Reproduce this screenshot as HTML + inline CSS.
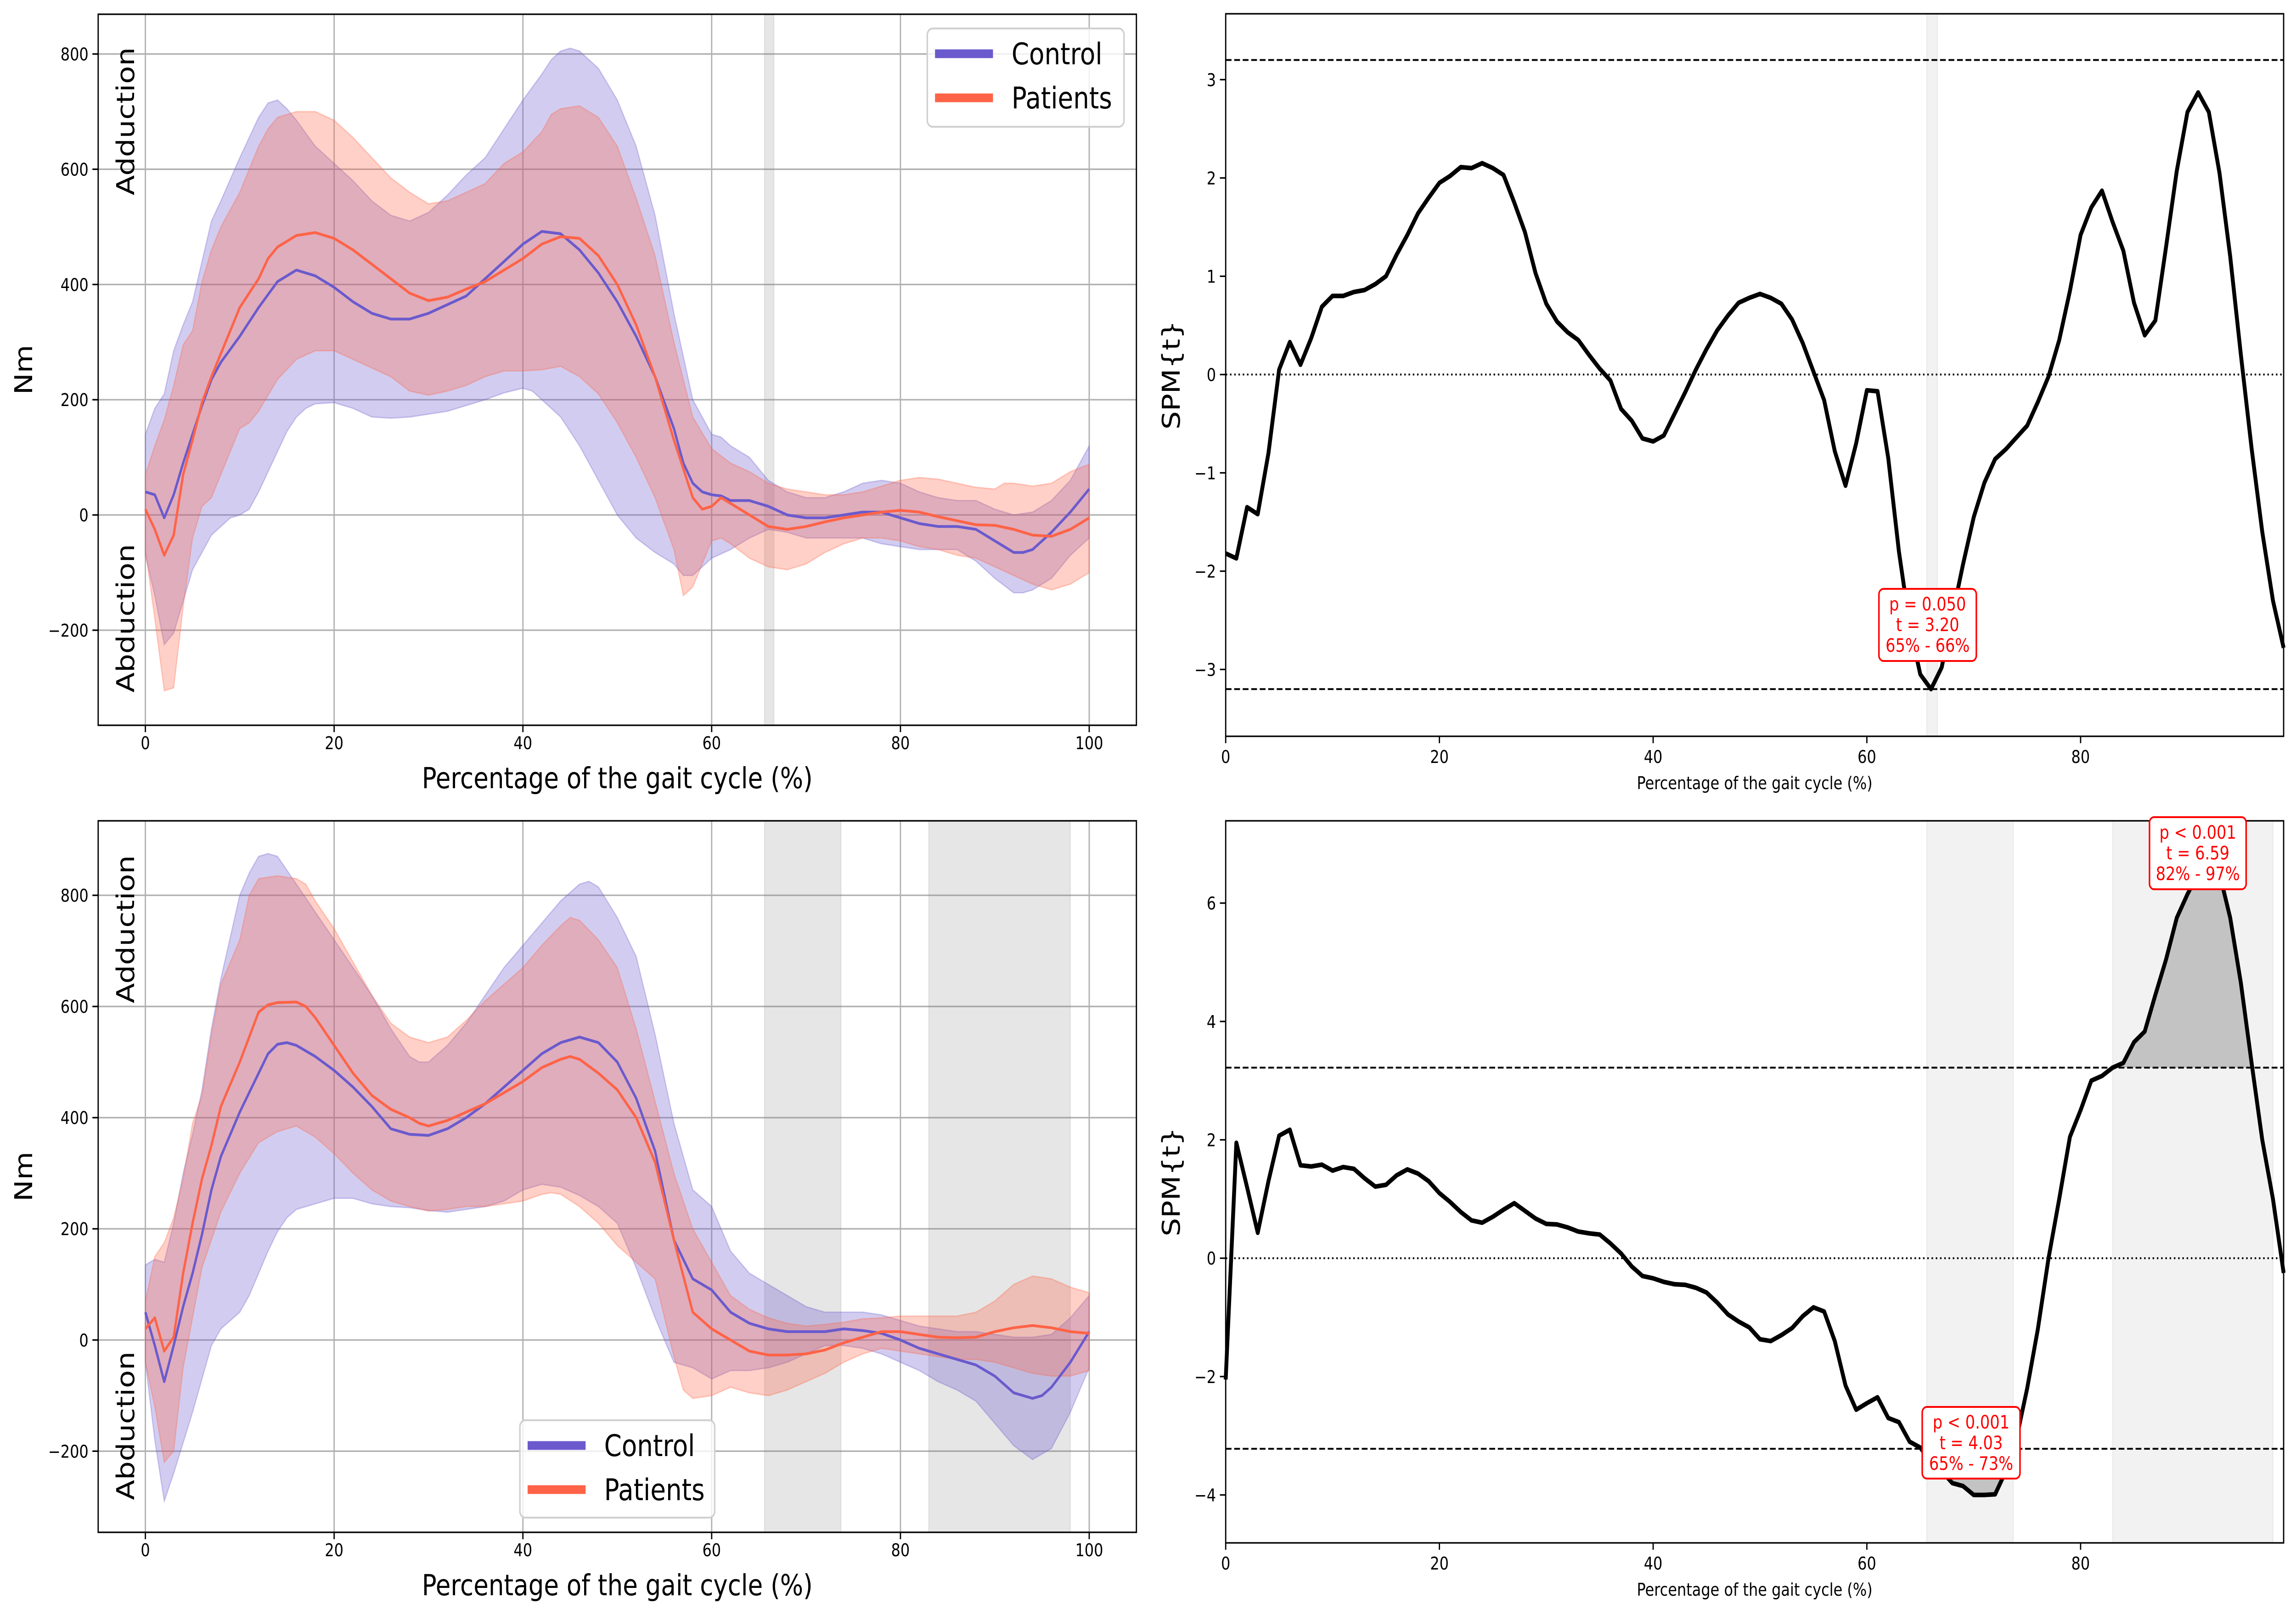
<!DOCTYPE html>
<html><head><meta charset="utf-8"><style>
html,body{margin:0;padding:0;background:#fff;overflow:hidden;width:100%;height:100%}
svg{display:block;width:100vw;height:100vh;font-family:"DejaVu Sans","Liberation Sans",sans-serif}
</style></head><body>
<svg id="fig" xmlns="http://www.w3.org/2000/svg" viewBox="0 0 5940 3516" preserveAspectRatio="none">
<rect width="5940" height="3516" fill="#fff"/>
</svg>
<script>
// ---------- DATA ----------
const tlCtrlMeanX=[0,1,2,3,4,5,6,7,8,10,12,14,16,18,20,22,24,26,28,30,32,34,36,38,40,42,44,46,48,50,52,54,56,57,58,59,60,61,62,64,66,68,70,72,74,76,78,80,82,84,86,88,90,92,93,94,96,98,100];
const tlCtrlMeanY=[40,35,-5,35,90,140,190,235,265,310,360,405,425,415,395,370,350,340,340,350,365,380,410,440,470,492,488,460,420,370,310,240,150,90,55,40,35,33,25,25,15,0,-5,-5,0,5,5,-5,-15,-20,-20,-25,-45,-65,-65,-60,-30,5,45];
const tlCtrlUpX=[0,1,2,3,4,5,6,7,8,10,12,13,14,15,16,18,20,22,24,26,28,30,32,34,36,38,40,42,43,44,45,46,48,50,52,54,56,58,59,60,61,62,64,66,68,70,72,74,76,78,80,82,84,86,88,90,92,94,96,98,100];
const tlCtrlUpY=[140,185,210,285,330,370,440,510,545,620,690,715,720,705,685,640,610,580,545,520,510,525,555,590,620,670,720,765,790,805,810,805,775,720,640,520,350,200,170,140,135,120,100,60,40,30,30,40,55,60,55,40,30,25,25,10,0,5,25,60,120];
const tlCtrlLoX=[0,1,2,3,4,5,6,7,8,9,10,11,12,13,14,15,16,17,18,20,22,24,26,28,30,32,34,36,38,40,41,42,44,46,48,50,52,54,56,57,58,60,62,64,66,68,70,72,74,76,78,80,82,84,86,88,90,92,93,94,96,98,100];
const tlCtrlLoY=[-70,-140,-225,-205,-150,-95,-65,-35,-20,-5,0,10,40,75,110,145,170,185,193,195,185,170,168,170,175,180,190,200,212,220,215,200,170,120,60,0,-40,-65,-85,-105,-105,-75,-60,-40,-25,-30,-40,-40,-40,-40,-50,-55,-60,-60,-60,-80,-110,-135,-135,-130,-110,-70,-40];
const tlPatMeanX=[0,1,2,3,4,5,6,7,8,9,10,12,13,14,16,18,20,22,24,26,28,30,32,34,36,38,40,42,44,46,48,50,52,54,56,57,58,59,60,61,62,64,66,68,70,72,74,76,78,80,82,84,86,88,90,92,94,96,98,100];
const tlPatMeanY=[10,-25,-70,-35,70,130,195,240,280,320,360,410,445,465,485,490,480,460,435,410,385,372,378,392,405,425,445,470,483,480,450,400,330,240,130,80,30,10,15,30,20,0,-20,-25,-20,-12,-5,0,5,8,5,-3,-10,-17,-18,-25,-35,-37,-25,-5];
const tlPatUpX=[0,1,2,3,4,5,6,7,8,10,12,13,14,16,18,20,22,24,26,28,30,32,34,36,38,40,42,43,44,46,48,50,52,54,56,58,60,62,64,66,68,70,72,74,76,78,80,82,84,86,88,90,91,92,94,96,98,100];
const tlPatUpY=[70,120,165,225,295,320,405,460,500,560,640,670,690,700,700,685,655,620,585,560,540,545,560,575,610,630,665,695,705,710,690,640,550,450,300,170,115,90,75,55,45,40,35,35,40,50,60,65,62,55,48,45,55,55,50,55,75,88];
const tlPatLoX=[0,1,2,3,4,5,6,7,8,10,11,12,14,16,18,20,22,24,26,28,30,32,34,36,38,40,42,44,46,48,50,52,54,56,57,58,60,61,62,64,66,68,70,72,74,76,78,80,82,84,86,88,90,92,94,96,98,100];
const tlPatLoY=[-60,-180,-305,-300,-160,-40,15,30,70,150,160,180,235,270,285,285,270,255,240,215,208,215,225,240,250,250,252,258,240,210,160,100,30,-60,-140,-125,-45,-40,-50,-75,-90,-95,-85,-65,-50,-40,-40,-45,-55,-60,-70,-75,-90,-105,-120,-130,-120,-100];

const blCtrlMeanX=[0,1,2,3,4,5,6,7,8,10,12,13,14,15,16,18,20,22,24,26,28,30,32,34,36,38,40,42,44,46,48,50,52,54,56,58,60,62,64,66,68,70,72,74,76,78,80,82,84,86,88,90,92,94,95,96,98,100];
const blCtrlMeanY=[50,-10,-75,-10,60,120,190,270,330,410,480,515,532,535,530,510,485,455,420,380,370,368,380,400,425,455,485,515,535,545,535,500,435,340,180,110,90,50,30,20,15,15,15,20,17,12,0,-15,-25,-35,-45,-65,-95,-105,-100,-85,-40,15];
const blCtrlUpX=[0,1,2,3,4,5,6,7,8,10,11,12,13,14,16,18,20,22,24,26,28,29,30,32,34,36,38,40,42,44,46,47,48,50,52,54,56,58,60,62,64,66,68,70,72,74,76,78,80,82,84,86,88,90,92,94,96,98,100];
const blCtrlUpY=[135,145,140,210,300,370,450,560,650,800,840,870,875,870,820,770,720,670,620,560,510,500,500,530,570,620,670,710,750,790,820,825,815,760,690,550,390,270,240,160,120,100,80,60,50,50,50,45,35,25,20,15,15,10,5,5,10,40,80];
const blCtrlLoX=[0,1,2,3,4,5,6,7,8,10,11,12,13,14,15,16,18,20,22,24,26,28,30,32,34,36,38,40,42,44,46,48,50,52,54,56,58,60,62,64,66,68,70,72,74,76,78,80,82,84,86,88,90,92,94,96,98,100];
const blCtrlLoY=[-40,-180,-290,-240,-185,-130,-70,-10,20,50,80,120,160,195,220,235,245,255,255,245,240,238,233,230,235,240,250,270,280,275,260,240,210,130,40,-40,-50,-70,-55,-55,-50,-40,-25,-10,-10,-15,-25,-40,-55,-75,-90,-110,-150,-190,-215,-195,-130,-50];
const blPatMeanX=[0,1,2,3,4,5,6,7,8,10,12,13,14,16,17,18,20,22,24,26,28,29,30,32,34,36,38,40,42,44,45,46,48,50,52,54,56,58,60,62,64,66,68,70,72,74,76,78,80,82,84,86,88,90,92,94,96,98,100];
const blPatMeanY=[20,40,-20,5,120,210,290,350,420,500,590,603,607,608,600,580,530,480,440,415,400,390,385,395,410,425,445,465,490,505,510,505,480,450,400,320,180,50,20,0,-20,-27,-27,-25,-18,-5,5,15,15,10,5,4,5,15,22,26,22,15,12];
const blPatUpX=[0,1,2,3,4,5,6,7,8,10,11,12,14,16,17,18,20,22,24,26,28,30,32,34,36,38,40,42,44,45,46,48,50,52,54,56,58,60,62,64,66,68,70,72,74,76,78,80,82,84,86,88,90,92,94,96,98,100];
const blPatUpY=[70,150,175,220,290,390,440,550,640,720,800,830,835,830,820,790,740,680,620,570,545,535,545,575,610,640,670,710,745,760,755,720,670,560,430,300,200,140,80,55,40,30,25,28,32,38,40,43,43,43,43,50,70,100,115,110,95,85];
const blPatLoX=[0,1,2,3,4,5,6,7,8,10,12,14,16,18,20,22,24,26,28,30,32,34,36,38,40,42,43,44,46,48,50,52,54,56,57,58,60,62,64,66,68,70,72,74,76,78,80,82,84,86,88,90,92,94,96,98,100];
const blPatLoY=[-40,-120,-220,-200,-50,40,130,180,230,300,355,375,385,365,335,300,270,250,240,232,235,240,240,245,250,262,265,262,240,210,170,140,110,-30,-90,-105,-100,-85,-95,-100,-90,-75,-60,-40,-25,-15,-20,-25,-30,-35,-35,-40,-50,-60,-65,-65,-55];

const spmPct=[0,1,2,3,4,5,6,7,8,9,10,11,12,13,14,15,16,17,18,19,20,21,22,23,24,25,26,27,28,29,30,31,32,33,34,35,36,37,38,39,40,41,42,43,44,45,46,47,48,49,50,51,52,53,54,55,56,57,58,59,60,61,62,63,64,65,66,67,68,69,70,71,72,73,74,75,76,77,78,79,80,81,82,83,84,85,86,87,88,89,90,91,92,93,94,95,96,97,98,99];
const spmTop=[-1.82,-1.87,-1.35,-1.42,-0.8,0.05,0.33,0.1,0.37,0.69,0.8,0.8,0.84,0.86,0.92,1.0,1.22,1.42,1.64,1.8,1.95,2.02,2.11,2.1,2.15,2.1,2.03,1.75,1.45,1.03,0.72,0.54,0.43,0.35,0.2,0.06,-0.06,-0.35,-0.47,-0.65,-0.68,-0.62,-0.4,-0.18,0.05,0.26,0.45,0.6,0.73,0.78,0.82,0.78,0.72,0.56,0.32,0.03,-0.26,-0.78,-1.13,-0.7,-0.16,-0.17,-0.85,-1.8,-2.55,-3.05,-3.2,-2.98,-2.45,-1.93,-1.45,-1.1,-0.86,-0.76,-0.64,-0.52,-0.28,-0.02,0.35,0.85,1.42,1.7,1.87,1.55,1.26,0.73,0.4,0.55,1.3,2.07,2.67,2.87,2.67,2.05,1.2,0.2,-0.75,-1.6,-2.3,-2.78];
const spmBottom=[-2.05,1.95,1.2,0.43,1.3,2.07,2.17,1.57,1.55,1.58,1.48,1.54,1.51,1.35,1.21,1.24,1.4,1.5,1.43,1.3,1.1,0.95,0.78,0.64,0.6,0.7,0.82,0.93,0.8,0.67,0.58,0.57,0.52,0.45,0.42,0.4,0.25,0.08,-0.14,-0.3,-0.34,-0.4,-0.44,-0.45,-0.5,-0.58,-0.75,-0.95,-1.07,-1.17,-1.37,-1.4,-1.3,-1.18,-0.98,-0.83,-0.9,-1.4,-2.15,-2.56,-2.45,-2.35,-2.7,-2.77,-3.1,-3.2,-3.45,-3.6,-3.8,-3.85,-4.0,-4.0,-3.99,-3.6,-3.05,-2.2,-1.2,0.0,1.0,2.05,2.5,3.0,3.08,3.22,3.3,3.65,3.83,4.45,5.05,5.75,6.15,6.5,6.58,6.5,5.75,4.65,3.3,2.0,1.0,-0.25];
const thrTop=[3.2];
const thrBottom=[3.22];
const spanTop=[[65.6,66.6]];
const spanBottom=[[65.6,73.7],[83,98]];
const annotTopText=["p = 0.050","t = 3.20","65% - 66%"];
const annotBot1Text=["p < 0.001","t = 4.03","65% - 73%"];
const annotBot2Text=["p < 0.001","t = 6.59","82% - 97%"];
const leftYTicks=[-200,0,200,400,600,800];
const leftXTicks=[0,20,40,60,80,100];
const rightXTicks=[0,20,40,60,80];
const topRightYTicks=[-3,-2,-1,0,1,2,3];
const botRightYTicks=[-4,-2,0,2,4,6];

// ---------- DRAWING ----------
const NS="http://www.w3.org/2000/svg";
const svg=document.getElementById('fig');
function mk(tag,attrs,parent){const e=document.createElementNS(NS,tag);for(const k in attrs)e.setAttribute(k,attrs[k]);(parent||svg).appendChild(e);return e;}
function txt(str,attrs,parent){const e=mk('text',attrs,parent);e.textContent=str;return e;}
function axis(L,R,T,B,x0,x1,y0,y1){return {L,R,T,B,sx:v=>L+(v-x0)/(x1-x0)*(R-L),sy:v=>B-(v-y0)/(y1-y0)*(B-T)};}
function pts(ax,xs,ys){return xs.map((x,i)=>ax.sx(x).toFixed(1)+','+ax.sy(ys[i]).toFixed(1));}
const CTRL='#6a5acd',PAT='#ff6347';

function leftPanel(name,ax,d,spans,yticks,legend){
  const g=mk('g',{});
  
  
  leftXTicks.forEach(t=>{const l=mk('line',{x1:ax.sx(t),x2:ax.sx(t),y1:ax.T,y2:ax.B,stroke:'#b0b0b0','stroke-width':3.3},g);
    });
  yticks.forEach(t=>{const l=mk('line',{x1:ax.L,x2:ax.R,y1:ax.sy(t),y2:ax.sy(t),stroke:'#b0b0b0','stroke-width':3.3},g);
    });
  spans.forEach(s=>{const r=mk('rect',{x:ax.sx(s[0]),y:ax.T,width:ax.sx(s[1])-ax.sx(s[0]),height:ax.B-ax.T,fill:'#808080','fill-opacity':0.2,stroke:'#808080','stroke-opacity':0.15,'stroke-width':3},g);
    });
  [[d.cux,d.cuy,d.clx,d.cly,CTRL,'control-band'],[d.pux,d.puy,d.plx,d.ply,PAT,'patients-band']].forEach(b=>{
    const p=pts(ax,b[0],b[1]).concat(pts(ax,b[2],b[3]).reverse());
    const poly=mk('polygon',{points:p.join(' '),fill:b[4],'fill-opacity':0.3,stroke:b[4],'stroke-opacity':0.3,'stroke-width':3},g);
    
  });
  const l1=mk('polyline',{points:pts(ax,d.cmx,d.cmy).join(' '),fill:'none',stroke:CTRL,'stroke-width':6,'stroke-linejoin':'round'},g);
  
  const l2=mk('polyline',{points:pts(ax,d.pmx,d.pmy).join(' '),fill:'none',stroke:PAT,'stroke-width':6,'stroke-linejoin':'round'},g);
  
  const sp=mk('rect',{x:ax.L,y:ax.T,width:ax.R-ax.L,height:ax.B-ax.T,fill:'none',stroke:'#000','stroke-width':3.3},g);
  
  leftXTicks.forEach(t=>{mk('line',{x1:ax.sx(t),x2:ax.sx(t),y1:ax.B,y2:ax.B+15,stroke:'#000','stroke-width':3.3},g);
    const tl=txt(String(t),{x:ax.sx(t),y:ax.B+52,'text-anchor':'middle','font-size':38},g);
    });
  yticks.forEach(t=>{mk('line',{x1:ax.L-15,x2:ax.L,y1:ax.sy(t),y2:ax.sy(t),stroke:'#000','stroke-width':3.3},g);
    const tl=txt(t<0?'\u2212'+(-t):String(t),{x:ax.L-25,y:ax.sy(t)+14,'text-anchor':'end','font-size':38},g);
    });
  const cy=(ax.T+ax.B)/2;
  const ad=txt('Adduction',{x:0,y:0,transform:`translate(347,${d.addY}) rotate(-90)`,'text-anchor':'middle','font-size':64},g);
  
  const ab=txt('Abduction',{x:0,y:0,transform:`translate(347,${d.abdY}) rotate(-90)`,'text-anchor':'middle','font-size':64},g);
  
  const yl=txt('Nm',{x:0,y:0,transform:`translate(83,${cy}) rotate(-90)`,'text-anchor':'middle','font-size':63},g);
  
  const xl=txt('Percentage of the gait cycle (%)',{x:(ax.L+ax.R)/2,y:ax.B+137,'text-anchor':'middle','font-size':63},g);
  
  const lg=mk('g',{},g);
  
  mk('rect',{x:legend.x,y:legend.y,width:legend.w,height:legend.h,rx:14,fill:'#fff','fill-opacity':0.8,stroke:'#d0d0d0','stroke-width':4},lg);
  [[CTRL,'Control',55],[PAT,'Patients',151]].forEach(e=>{
    const en=mk('g',{},lg);
    
    mk('line',{x1:legend.x+20,x2:legend.x+170,y1:legend.y+e[2],y2:legend.y+e[2],stroke:e[0],'stroke-width':19},en);
    txt(e[1],{x:legend.x+218,y:legend.y+e[2]+23,'font-size':65},en);
  });
}

const axTL=axis(254,2940,31,1579,-5,105,-365,869);
leftPanel('top-left-moment-chart',axTL,{cmx:tlCtrlMeanX,cmy:tlCtrlMeanY,cux:tlCtrlUpX,cuy:tlCtrlUpY,clx:tlCtrlLoX,cly:tlCtrlLoY,
  pmx:tlPatMeanX,pmy:tlPatMeanY,pux:tlPatUpX,puy:tlPatUpY,plx:tlPatLoX,ply:tlPatLoY,addY:264,abdY:1346},
  spanTop,leftYTicks,{x:2399,y:62,w:509,h:214});
const axBL=axis(254,2940,1787,3336,-5,105,-346,934);
leftPanel('bottom-left-moment-chart',axBL,{cmx:blCtrlMeanX,cmy:blCtrlMeanY,cux:blCtrlUpX,cuy:blCtrlUpY,clx:blCtrlLoX,cly:blCtrlLoY,
  pmx:blPatMeanX,pmy:blPatMeanY,pux:blPatUpX,puy:blPatUpY,plx:blPatLoX,ply:blPatLoY,addY:2023,abdY:3104},
  spanBottom,leftYTicks,{x:1345,y:3092,w:504,h:212});

function rightPanel(name,ax,vals,thr,spans,yticks,annots,fillClusters){
  const g=mk('g',{});
  
  
  spans.forEach(s=>{const r=mk('rect',{x:ax.sx(s[0]),y:ax.T,width:ax.sx(s[1])-ax.sx(s[0]),height:ax.B-ax.T,fill:'#808080','fill-opacity':0.1,stroke:'#808080','stroke-opacity':0.1,'stroke-width':3},g);
    });
  const linePts=pts(ax,spmPct,vals);
  if(fillClusters){
    const id=name+'-clip';
    const defs=mk('defs',{},g);
    const cpU=mk('clipPath',{id:id+'u'},defs);mk('rect',{x:ax.L,y:ax.T,width:ax.R-ax.L,height:ax.sy(thr)-ax.T},cpU);
    const cpL=mk('clipPath',{id:id+'l'},defs);mk('rect',{x:ax.L,y:ax.sy(-thr),width:ax.R-ax.L,height:ax.B-ax.sy(-thr)},cpL);
    const x0=ax.sx(spmPct[0]),x1=ax.sx(spmPct[spmPct.length-1]);
    const pu=mk('polygon',{points:linePts.join(' ')+` ${x1},${ax.sy(thr)} ${x0},${ax.sy(thr)}`,fill:'#c3c3c3','clip-path':`url(#${id}u)`},g);
    
    const pl=mk('polygon',{points:linePts.join(' ')+` ${x1},${ax.sy(-thr)} ${x0},${ax.sy(-thr)}`,fill:'#c3c3c3','clip-path':`url(#${id}l)`},g);
    
  }
  const z=mk('line',{x1:ax.L,x2:ax.R,y1:ax.sy(0),y2:ax.sy(0),stroke:'#000','stroke-width':4,'stroke-dasharray':'4 7'},g);
  
  [thr,-thr].forEach(t=>{const l=mk('line',{x1:ax.L,x2:ax.R,y1:ax.sy(t),y2:ax.sy(t),stroke:'#000','stroke-width':4,'stroke-dasharray':'15 7'},g);
    });
  const pl=mk('polyline',{points:linePts.join(' '),fill:'none',stroke:'#000','stroke-width':10,'stroke-linejoin':'round'},g);
  
  const sp=mk('rect',{x:ax.L,y:ax.T,width:ax.R-ax.L,height:ax.B-ax.T,fill:'none',stroke:'#000','stroke-width':3.3},g);
  
  rightXTicks.forEach(t=>{mk('line',{x1:ax.sx(t),x2:ax.sx(t),y1:ax.B,y2:ax.B+15,stroke:'#000','stroke-width':3.3},g);
    const tl=txt(String(t),{x:ax.sx(t),y:ax.B+58,'text-anchor':'middle','font-size':38},g);
    });
  yticks.forEach(t=>{mk('line',{x1:ax.L-15,x2:ax.L,y1:ax.sy(t),y2:ax.sy(t),stroke:'#000','stroke-width':3.3},g);
    const tl=txt(t<0?'\u2212'+(-t):String(t),{x:ax.L-25,y:ax.sy(t)+14,'text-anchor':'end','font-size':38},g);
    });
  const yl=txt('SPM{t}',{x:0,y:0,transform:`translate(3052,${(ax.T+ax.B)/2}) rotate(-90)`,'text-anchor':'middle','font-size':63},g);
  
  const xl=txt('Percentage of the gait cycle (%)',{x:(ax.L+ax.R)/2,y:ax.B+115,'text-anchor':'middle','font-size':38},g);
  
  annots.forEach(a=>{
    const ag=mk('g',{},g);
    
    mk('rect',{x:a.x,y:a.y,width:a.w,height:a.h,rx:12,fill:'#fff',stroke:'#ff0000','stroke-width':4},ag);
    a.lines.forEach((s,i)=>txt(s,{x:a.x+a.w/2,y:a.y+47+i*45,'text-anchor':'middle','font-size':40,fill:'#ff0000'},ag));
  });
}
const axTR=axis(3171,5908,30,1603,0,99,-3.68,3.67);
rightPanel('top-right-spm-chart',axTR,spmTop,thrTop[0],spanTop,topRightYTicks,[{x:4861,y:1282,w:252,h:157,lines:annotTopText}],false);
const axBR=axis(3171,5908,1787,3359,0,99,-4.81,7.39);
rightPanel('bottom-right-spm-chart',axBR,spmBottom,thrBottom[0],spanBottom,botRightYTicks,
  [{x:4973,y:3063,w:253,h:156,lines:annotBot1Text},{x:5561,y:1779,w:250,h:157,lines:annotBot2Text}],true);
</script>
</body></html>
